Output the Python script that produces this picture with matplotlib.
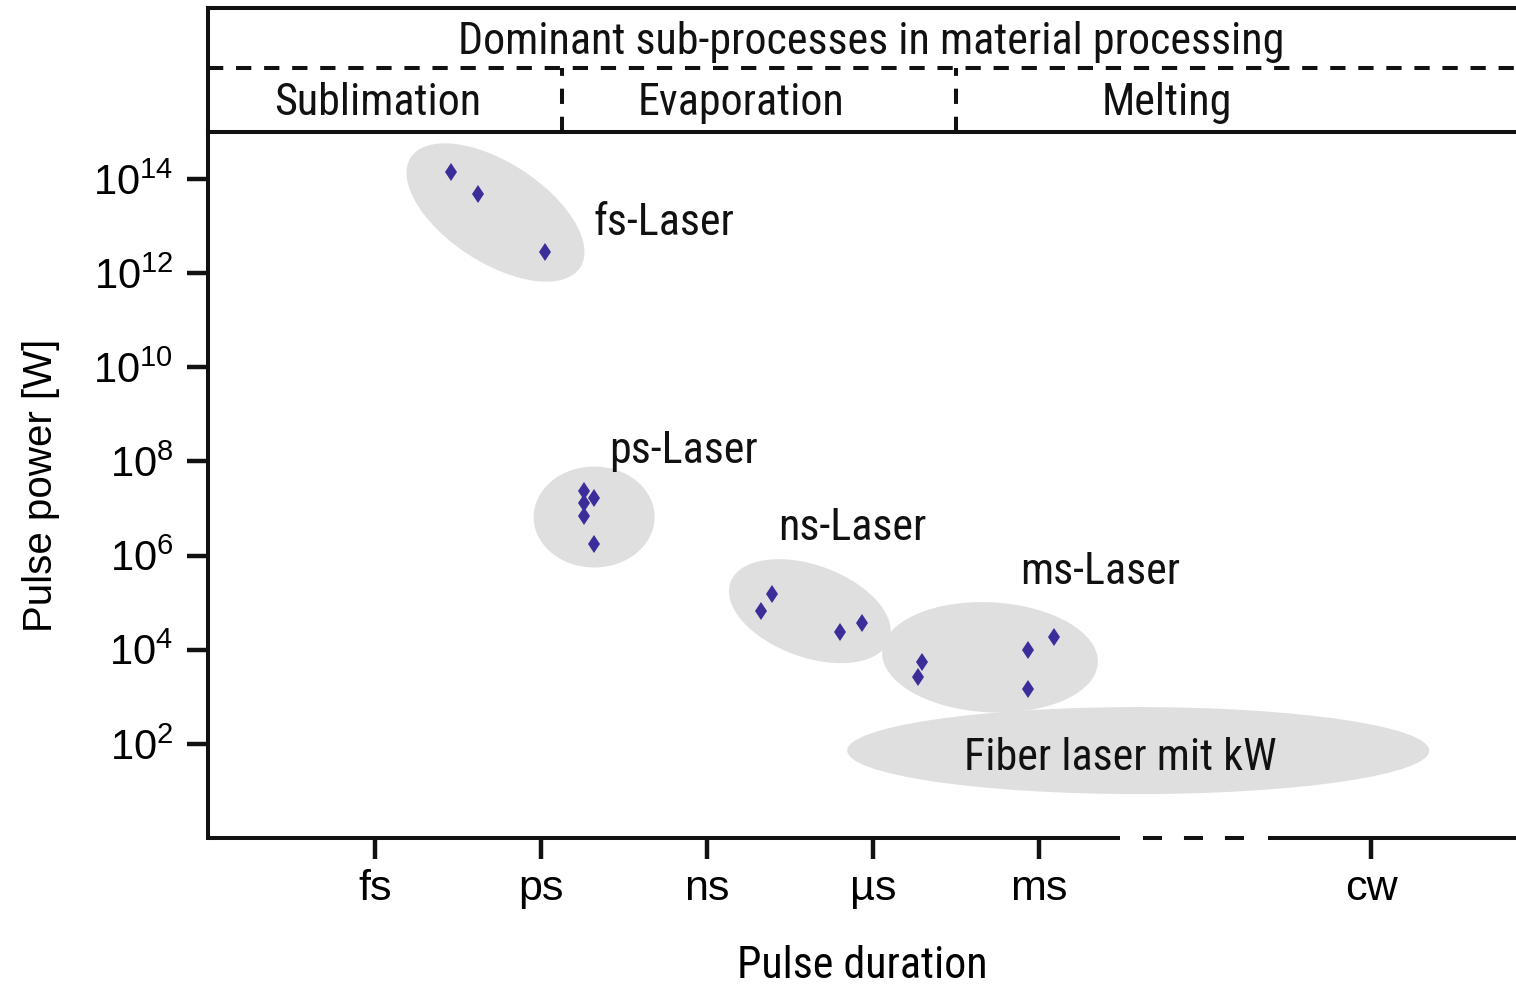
import numpy as np
import matplotlib
matplotlib.use("Agg")
import matplotlib.pyplot as plt
from matplotlib import font_manager
from matplotlib.patches import Ellipse
from matplotlib import transforms

available = {f.name for f in font_manager.fontManager.ttflist}


def first_available(candidates, default):
    for name in candidates:
        if name in available:
            return name
    return default


REGULAR = first_available(["Liberation Sans", "Arimo"], "DejaVu Sans")
NARROW = first_available(["Liberation Sans Narrow", "Arial Narrow", "Roboto Condensed",
                          "Archivo Narrow", "PT Sans Narrow", "Asap Condensed"], REGULAR)

plt.rcParams["font.family"] = [REGULAR, "DejaVu Sans"]
plt.rcParams["mathtext.fontset"] = "custom"
plt.rcParams["mathtext.rm"] = REGULAR
plt.rcParams["mathtext.it"] = REGULAR
plt.rcParams["lines.scale_dashes"] = False

# ---- data -------------------------------------------------------------
# laser sources: pulse duration [s] and pulse power [W]
fs_duration = [2.4e-14, 7.2e-14, 1.2e-12]
fs_power = [1.4e14, 4.7e13, 2.8e12]

ps_duration = [6.0e-12, 6.0e-12, 9.0e-12, 6.0e-12, 9.0e-12]
ps_power = [2.4e7, 1.3e7, 1.7e7, 6.9e6, 1.8e6]

ns_duration = [9.5e-9, 1.5e-8, 2.5e-7, 6.3e-7]
ns_power = [6.6e4, 1.5e5, 2.4e4, 3.7e4]

ms_duration = [6.5e-6, 7.6e-6, 6.3e-4, 6.3e-4, 1.9e-3]
ms_power = [2.6e3, 5.4e3, 9.8e3, 1.5e3, 1.9e4]

# grouping regions: centre (duration, power)
group_names = ["fs-Laser", "ps-Laser", "ns-Laser", "ms-Laser", "Fiber laser mit kW"]
group_center_duration = [1.5e-13, 9.1e-12, 7.2e-8, 1.3e-4, 6.2e-2]
group_center_power = [1.95e13, 6.6e6, 6.6e4, 6.9e3, 72.0]

x_tick_values = [1e-15, 1e-12, 1e-9, 1e-6, 1e-3, 1e3]
x_tick_labels = ["fs", "ps", "ns", "\u00b5s", "ms", "cw"]
y_tick_values = [1e2, 1e4, 1e6, 1e8, 1e10, 1e12, 1e14]
y_tick_labels = [r"$10^{%d}$" % int(np.log10(v)) for v in y_tick_values]

header_title = "Dominant sub-processes in material processing"
process_names = ["Sublimation", "Evaporation", "Melting"]

# ---- figure -----------------------------------------------------------
W, H = 1516, 989
fig = plt.figure(figsize=(W / 100, H / 100), dpi=100)
LW = 2.9
DARK = "#111111"
GREY = "#dfdfdf"
MARK = "#3b2d9a"

ax = fig.add_axes([208 / W, (H - 838) / H, 1308 / W, 706 / H])
ax.set_xscale("log")
ax.set_yscale("log")
ax.set_xlim(10 ** -18.02, 10 ** 5.62)
ax.set_ylim(1, 1e15)

for s in ["top", "right", "bottom"]:
    ax.spines[s].set_visible(False)
ax.spines["left"].set_linewidth(LW)
ax.spines["left"].set_color(DARK)

ax.set_xticks(x_tick_values)
ax.set_xticklabels(x_tick_labels)
ax.set_yticks(y_tick_values)
ax.set_yticklabels(y_tick_labels)
ax.minorticks_off()
ax.tick_params(axis="both", direction="out", length=15, width=3.2, color=DARK)
ax.tick_params(axis="x", labelsize=31, pad=7)
ax.tick_params(axis="y", labelsize=30, pad=10)

# broken time axis between ms and cw
ax.plot([0, 0.6975], [0, 0], transform=ax.transAxes, color=DARK, lw=LW,
        clip_on=False, solid_capstyle="butt")
ax.plot([0.8104, 1.0], [0, 0], transform=ax.transAxes, color=DARK, lw=LW,
        clip_on=False, solid_capstyle="butt")
ax.plot([0.7147, 0.7951], [0, 0], transform=ax.transAxes, color=DARK, lw=LW,
        clip_on=False, dashes=(13.7, 15.8), solid_capstyle="butt", dash_capstyle="butt")

# grouping ellipses (sizes in pixels, tilt in degrees)
ell_w = [202, 121, 169, 216, 582]
ell_h = [100, 101, 92, 110, 87]
ell_a = [-33, 0, -20, -3, 0]
for cx, cy, w, h, a in zip(group_center_duration, group_center_power, ell_w, ell_h, ell_a):
    tr = fig.dpi_scale_trans + transforms.ScaledTranslation(cx, cy, ax.transData)
    ax.add_patch(Ellipse((0, 0), w / 100, h / 100, angle=a, transform=tr,
                         facecolor=GREY, edgecolor="none", zorder=1))

for xs, ys in [(fs_duration, fs_power), (ps_duration, ps_power),
               (ns_duration, ns_power), (ms_duration, ms_power)]:
    ax.plot(xs, ys, linestyle="none", marker="d", markersize=9.5,
            color=MARK, markeredgewidth=0, zorder=3)

narrow_texts = []
label_kw = dict(fontsize=34, family=[NARROW, "DejaVu Sans"], color=DARK, va="baseline")
narrow_texts.append(ax.text(10 ** -11.06, 10 ** 12.81, group_names[0], ha="left", **label_kw))
narrow_texts.append(ax.text(10 ** -10.77, 10 ** 7.97, group_names[1], ha="left", **label_kw))
narrow_texts.append(ax.text(10 ** -7.72, 10 ** 6.33, group_names[2], ha="left", **label_kw))
narrow_texts.append(ax.text(10 ** -3.34, 10 ** 5.40, group_names[3], ha="left", **label_kw))
narrow_texts.append(ax.text(10 ** -1.535, 10 ** 1.445, group_names[4], ha="center",
                            zorder=4, **label_kw))

ax.set_ylabel("Pulse power [W]", fontsize=29, labelpad=24)
xl = ax.set_xlabel("Pulse duration", fontsize=34, family=[NARROW, "DejaVu Sans"], labelpad=26)
narrow_texts.append(xl)

# ---- header -----------------------------------------------------------
hx = fig.add_axes([208 / W, (H - 132) / H, 1308 / W, 124 / H])
hx.set_xlim(0, 1)
hx.set_ylim(0, 1)
hx.set_xticks([])
hx.set_yticks([])
hx.patch.set_alpha(0)
hx.spines["right"].set_visible(False)
for s in ["top", "left", "bottom"]:
    hx.spines[s].set_linewidth(LW)
    hx.spines[s].set_color(DARK)

hx.plot([0, 1], [0.516, 0.516], color=DARK, lw=LW, dashes=(11.0, 9.2),
        dash_capstyle="butt", clip_on=False)
for xd in [0.2706, 0.5719]:
    hx.plot([xd, xd], [0, 0.516], color=DARK, lw=LW, dashes=(11.0, 9.2),
            dash_capstyle="butt")

head_kw = dict(fontsize=34, family=[NARROW, "DejaVu Sans"], color=DARK, va="baseline", ha="center")
title = hx.text(0.507, 0.63, header_title, **head_kw)
narrow_texts.append(title)
for xc, name in zip([0.130, 0.4075, 0.733], process_names):
    narrow_texts.append(hx.text(xc, 0.135, name, **head_kw))

# size the condensed lettering so the header line spans its 828 px
fig.canvas.draw()
renderer = fig.canvas.get_renderer()
scale = 828.0 / title.get_window_extent(renderer).width
for t in narrow_texts:
    t.set_fontsize(t.get_fontsize() * scale)

fig.savefig("out.png", dpi=100)
